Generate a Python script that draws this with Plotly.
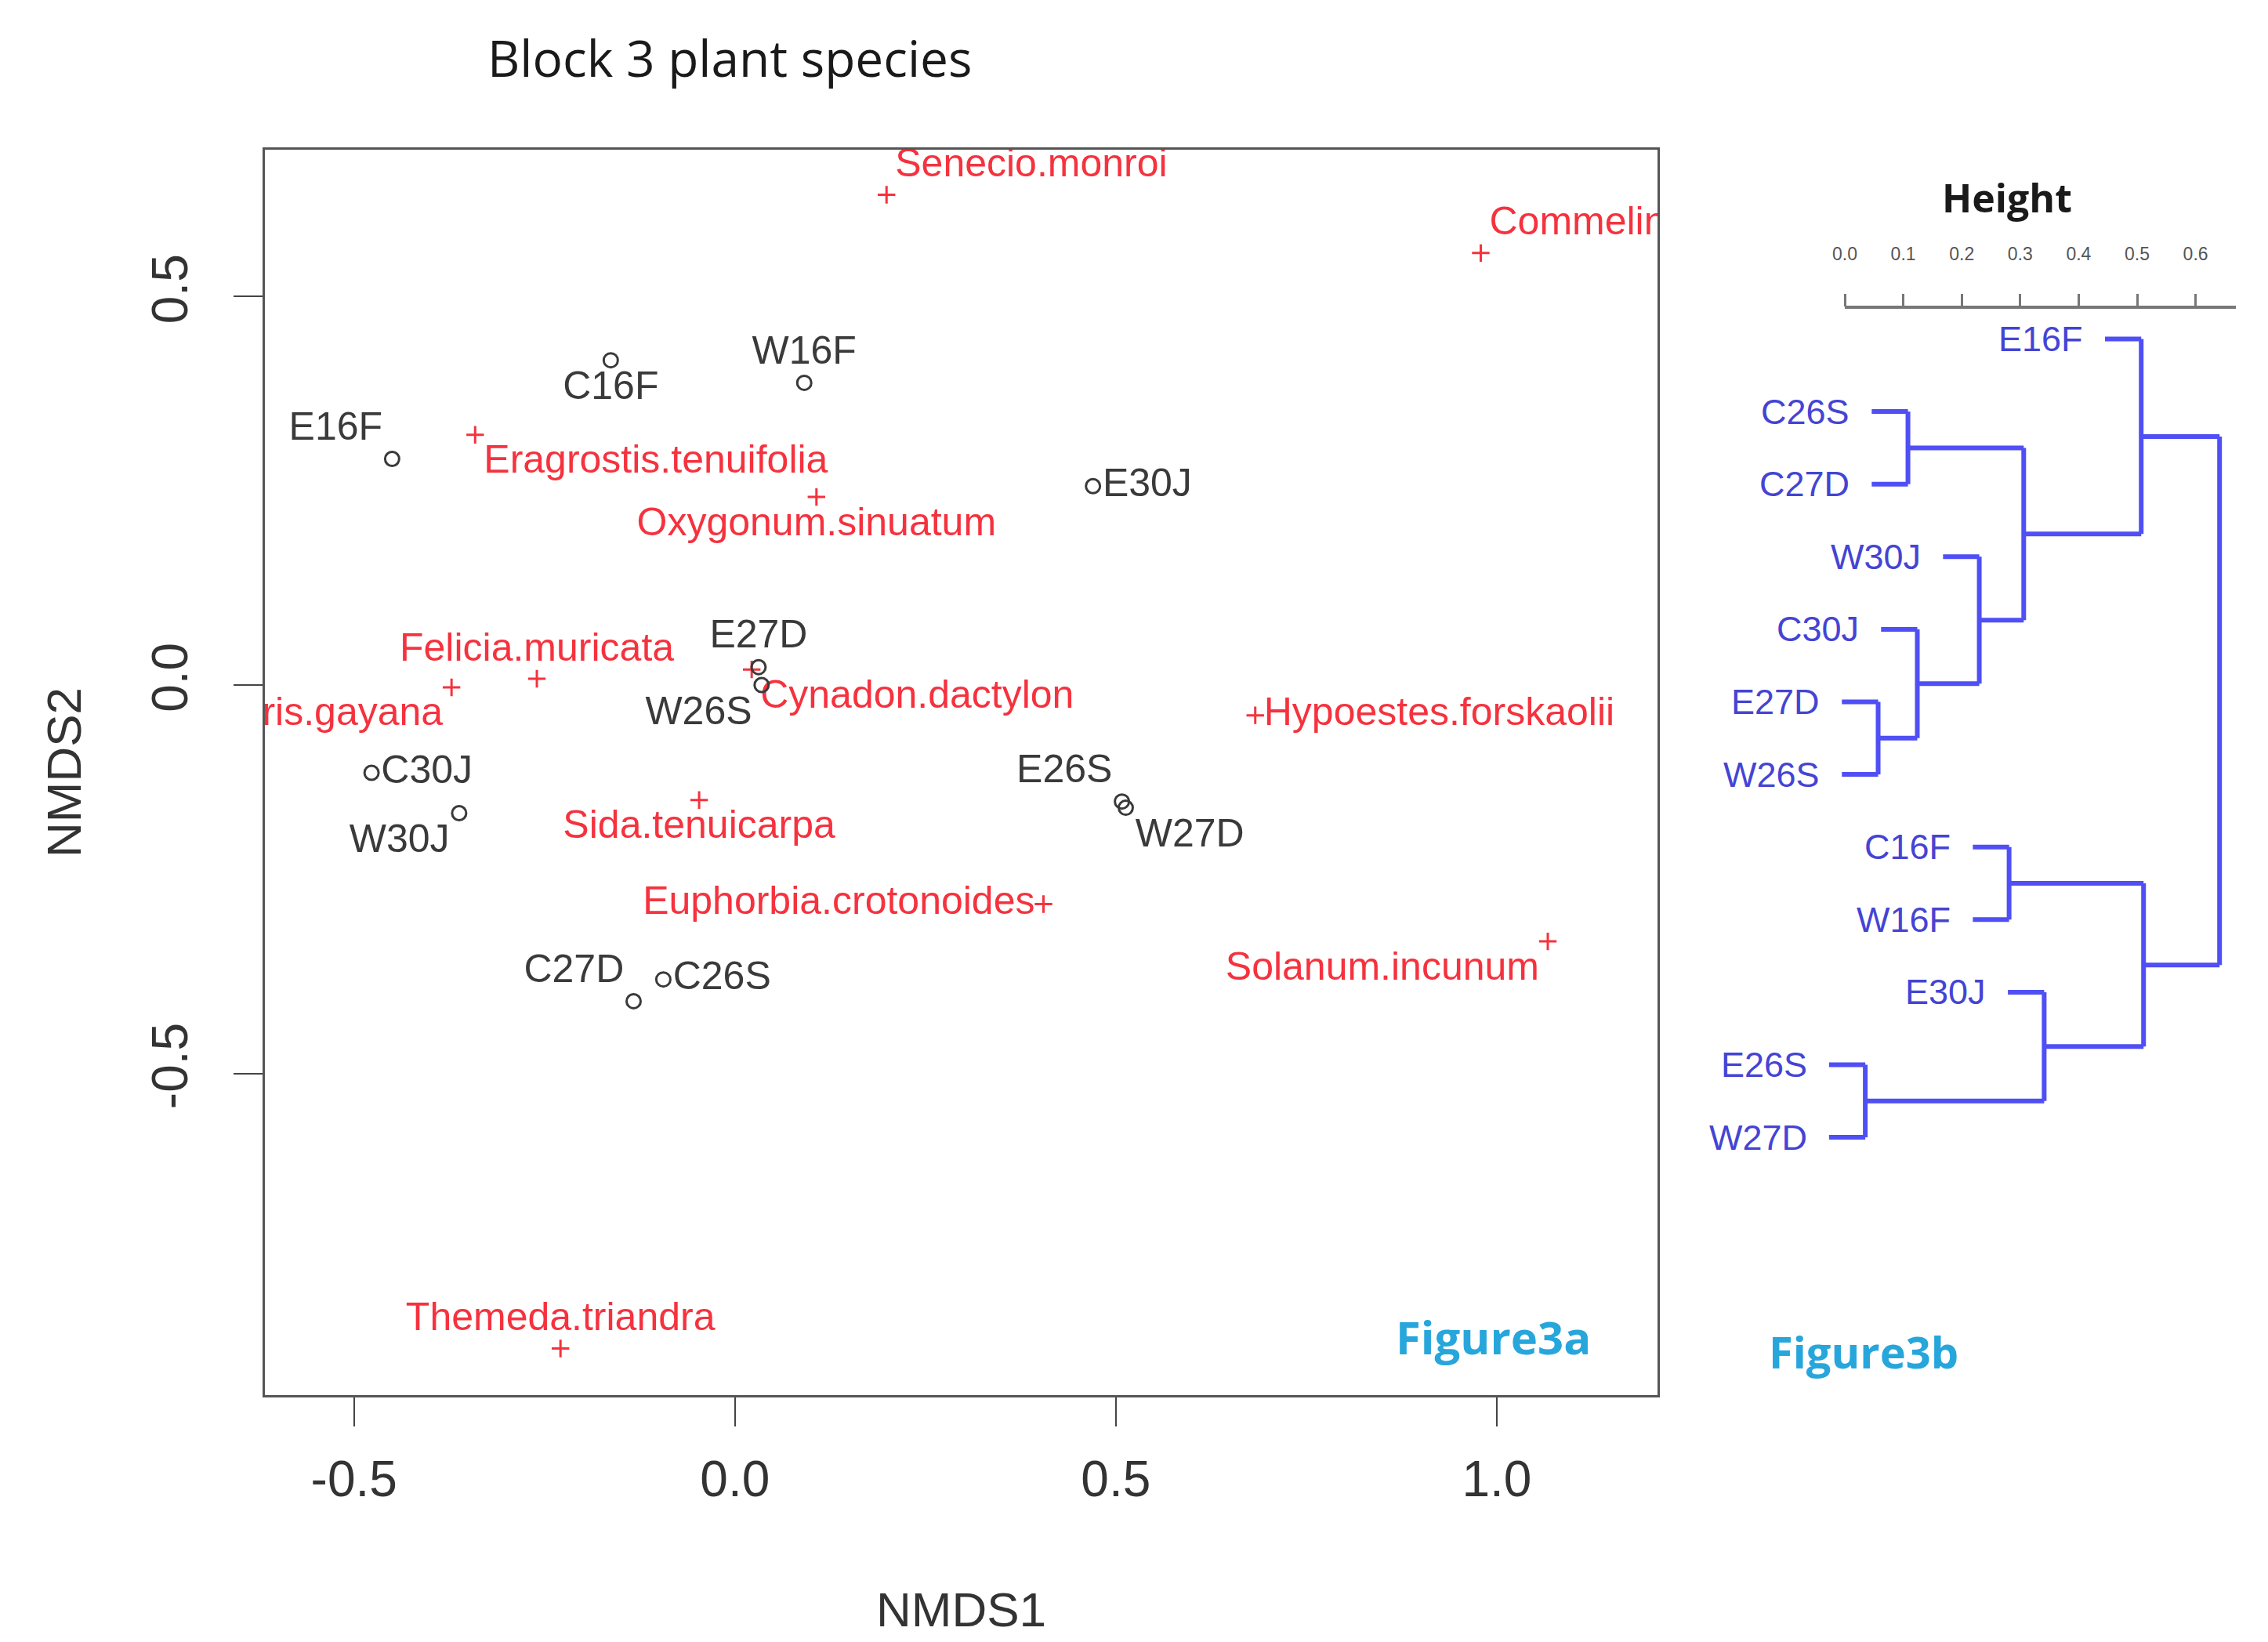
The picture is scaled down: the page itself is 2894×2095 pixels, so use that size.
import plotly.graph_objects as go

W, H = 2894, 2095

# ---------------- NMDS data (Figure 3a) ----------------
site_names = ["E16F", "C16F", "W16F", "E30J", "E27D", "W26S", "C30J", "W30J", "E26S", "W27D", "C27D", "C26S"]
site_x = [-0.450, -0.163, 0.091, 0.470, 0.031, 0.035, -0.477, -0.362, 0.508, 0.513, -0.133, -0.094]
site_y = [0.291, 0.418, 0.389, 0.256, 0.023, 0.000, -0.113, -0.165, -0.150, -0.158, -0.407, -0.379]
site_pos = ["top left", "bottom center", "top center", "middle right", "top center", "bottom left",
            "middle right", "bottom left", "top left", "bottom right", "top left", "middle right"]

species_names = ["Senecio.monroi", "Commelina.benghalensis", "Eragrostis.tenuifolia", "Oxygonum.sinuatum",
                 "Felicia.muricata", "Chloris.gayana", "Cynadon.dactylon", "Hypoestes.forskaolii",
                 "Sida.tenuicarpa", "Euphorbia.crotonoides", "Solanum.incunum", "Themeda.triandra"]
species_x = [0.199, 0.979, -0.341, 0.107, -0.260, -0.372, 0.022, 0.683, -0.047, 0.405, 1.067, -0.229]
species_y = [0.631, 0.556, 0.322, 0.242, 0.008, -0.003, 0.020, -0.039, -0.148, -0.282, -0.330, -0.854]
species_pos = ["top right", "top right", "bottom right", "bottom center", "top center", "bottom left",
               "bottom right", "middle right", "bottom center", "middle left", "bottom left", "top center"]

x_ticks = [-0.5, 0.0, 0.5, 1.0]
x_ticklabels = ["-0.5", "0.0", "0.5", "1.0"]
y_ticks = [-0.5, 0.0, 0.5]
y_ticklabels = ["-0.5", "0.0", "0.5"]

# ---------------- Dendrogram data (Figure 3b) ----------------
dend_leaves = ["E16F", "C26S", "C27D", "W30J", "C30J", "E27D", "W26S", "C16F", "W16F", "E30J", "E26S", "W27D"]
merge_a = ["C26S", "E27D", "C30J", "W30J", "m1", "E16F", "C16F", "E26S", "E30J", "m7", "m6"]
merge_b = ["C27D", "W26S", "m2", "m3", "m4", "m5", "W16F", "W27D", "m8", "m9", "m10"]
merge_h = [0.108, 0.057, 0.124, 0.230, 0.306, 0.507, 0.281, 0.035, 0.341, 0.511, 0.641]
hang = 0.062
height_ticks = [0.0, 0.1, 0.2, 0.3, 0.4, 0.5, 0.6]
height_ticklabels = ["0.0", "0.1", "0.2", "0.3", "0.4", "0.5", "0.6"]

# ---------------- styles ----------------
SANS = "Liberation Sans, Arial, sans-serif"
NARROW = "Liberation Sans Narrow, Liberation Sans, Arial, sans-serif"
TITLEF = "Open Sans, Noto Sans, sans-serif"
RED = "#f5323e"
DARK = "#3a3a3a"
BLUE_LINE = "#4f4ff5"
BLUE_TXT = "#4444d4"
CYAN = "#27a6dc"

def px_x(p):
    return p / W

def px_y(p):
    return 1 - p / H

fig = go.Figure()

# species (red crosses)
fig.add_trace(go.Scatter(
    x=species_x, y=species_y, mode="markers+text", text=species_names,
    textposition=species_pos, cliponaxis=True,
    marker=dict(symbol="cross-thin", size=16, color=RED, line=dict(color=RED, width=3)),
    textfont=dict(family=SANS, size=50, color=RED),
    xaxis="x", yaxis="y", hoverinfo="text"))

# sites (open circles)
fig.add_trace(go.Scatter(
    x=site_x, y=site_y, mode="markers+text", text=site_names,
    textposition=site_pos, cliponaxis=True,
    marker=dict(symbol="circle-open", size=18, color=DARK, line=dict(color=DARK, width=3)),
    textfont=dict(family=SANS, size=50, color=DARK),
    xaxis="x", yaxis="y", hoverinfo="text"))

# ---------------- dendrogram geometry from merge table ----------------
ypos = {name: i + 1 for i, name in enumerate(dend_leaves)}
hpos = {}
seg_x, seg_y = [], []
leaf_stub_start = {}
for k, (a, b, h) in enumerate(zip(merge_a, merge_b, merge_h)):
    node = "m%d" % (k + 1)
    for c in (a, b):
        if c in dend_leaves:
            x0 = h - hang
            leaf_stub_start[c] = x0
        else:
            x0 = hpos[c]
        seg_x += [x0, h, None]
        seg_y += [ypos[c], ypos[c], None]
    seg_x += [h, h, None]
    seg_y += [ypos[a], ypos[b], None]
    ypos[node] = (ypos[a] + ypos[b]) / 2
    hpos[node] = h

fig.add_trace(go.Scatter(
    x=seg_x, y=seg_y, mode="lines", line=dict(color=BLUE_LINE, width=6),
    xaxis="x2", yaxis="y2", hoverinfo="skip", cliponaxis=False))

annotations = []
for name in dend_leaves:
    annotations.append(dict(
        x=leaf_stub_start[name], y=ypos[name], xref="x2", yref="y2",
        text=name, showarrow=False, xanchor="right", yanchor="middle", xshift=-26,
        font=dict(family=NARROW, size=45, color=BLUE_TXT)))

# text labels
annotations += [
    dict(x=px_x(923), y=px_y(66), xref="paper", yref="paper", text="Block 3 plant species",
         showarrow=False, xanchor="center", yanchor="middle",
         font=dict(family=TITLEF, size=64, color="#1a1a1a")),
    dict(x=px_x(1218), y=px_y(2045), xref="paper", yref="paper", text="NMDS1",
         showarrow=False, xanchor="center", yanchor="middle",
         font=dict(family=SANS, size=62, color="#333333")),
    dict(x=px_x(74), y=px_y(978), xref="paper", yref="paper", text="NMDS2", textangle=-90,
         showarrow=False, xanchor="center", yanchor="middle",
         font=dict(family=SANS, size=62, color="#333333")),
    dict(x=px_x(1897), y=px_y(1697), xref="paper", yref="paper", text="<b>Figure3a</b>",
         showarrow=False, xanchor="center", yanchor="middle",
         font=dict(family=TITLEF, size=58, color=CYAN)),
    dict(x=px_x(2370), y=px_y(1716), xref="paper", yref="paper", text="<b>Figure3b</b>",
         showarrow=False, xanchor="center", yanchor="middle",
         font=dict(family=TITLEF, size=56, color=CYAN)),
    dict(x=px_x(2553), y=px_y(244), xref="paper", yref="paper", text="<b>Height</b>",
         showarrow=False, xanchor="center", yanchor="middle",
         font=dict(family=TITLEF, size=50, color="#1a1a1a")),
]

# dendrogram axis geometry (pixels)
d_x0, d_x1 = 2300, 2880
zero_px, per_unit = 2346, 746.0
d_top, d_bot = 384, 1500
leaf1_px, leaf_step = 424.5, 92.6

shapes = [dict(type="line", xref="x2", yref="paper", x0=0.0, x1=0.669,
               y0=px_y(d_top), y1=px_y(d_top), line=dict(color="#777777", width=4))]

fig.update_layout(
    width=W, height=H, margin=dict(l=0, r=0, t=0, b=0),
    paper_bgcolor="white", plot_bgcolor="white", showlegend=False,
    xaxis=dict(domain=[px_x(330), px_x(2107)], range=[-0.617, 1.211],
               tickvals=x_ticks, ticktext=x_ticklabels, ticks="outside", ticklen=37, tickwidth=2,
               tickcolor="#444444", showline=True, mirror=True, linecolor="#555555", linewidth=3,
               showgrid=False, zeroline=False, ticklabelstandoff=12,
               tickfont=dict(family=SANS, size=64, color="#333333"), anchor="y"),
    yaxis=dict(domain=[px_y(1772), px_y(183)], range=[-0.914, 0.689],
               tickvals=y_ticks, ticktext=y_ticklabels, ticks="outside", ticklen=37, tickwidth=2,
               tickcolor="#444444", showline=True, mirror=True, linecolor="#555555", linewidth=3,
               showgrid=False, zeroline=False, tickangle=-90, ticklabelstandoff=33,
               tickfont=dict(family=SANS, size=64, color="#333333"), anchor="x"),
    xaxis2=dict(domain=[px_x(d_x0), px_x(d_x1)],
                range=[(d_x0 - zero_px) / per_unit, (d_x1 - zero_px) / per_unit],
                side="top", anchor="y2", tickvals=height_ticks, ticktext=height_ticklabels,
                ticks="outside", ticklen=16, tickwidth=3, tickcolor="#777777",
                showline=False, showgrid=False, zeroline=False, ticklabelstandoff=34,
                tickfont=dict(family=NARROW, size=23, color="#555555")),
    yaxis2=dict(domain=[px_y(d_bot), px_y(d_top)],
                range=[1 + (d_bot - leaf1_px) / leaf_step, 1 - (leaf1_px - d_top) / leaf_step],
                anchor="x2", visible=False, showgrid=False, zeroline=False),
    annotations=annotations, shapes=shapes,
)

fig.write_html("out.html")
